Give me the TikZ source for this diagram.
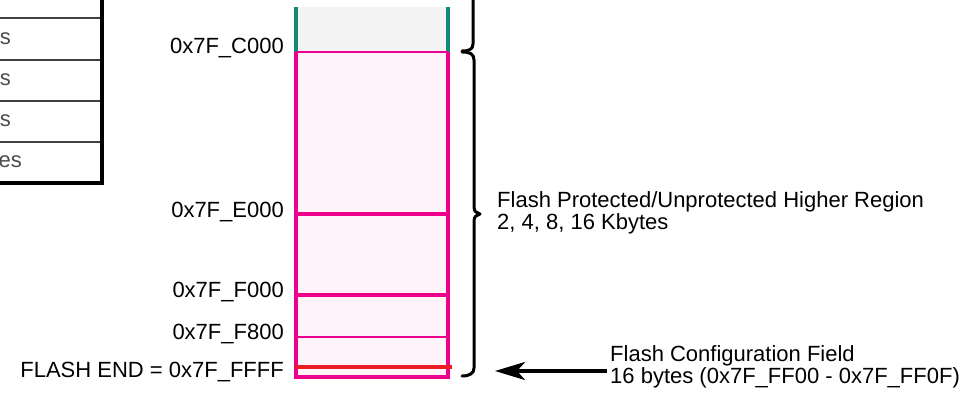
\documentclass[tikz,border=0pt]{standalone}
\usepackage{fontspec}
\setmainfont{Liberation Sans}
\usepackage{tikz}
\usetikzlibrary{arrows.meta,positioning}
\definecolor{flashpink}{RGB}{236,0,140}
\definecolor{flashfill}{RGB}{254,243,249}
\definecolor{flashteal}{RGB}{20,138,118}
\definecolor{flashgray}{RGB}{243,244,243}
\definecolor{flashred}{RGB}{237,28,36}
\tikzset{
  addr/.style={anchor=east,inner sep=0pt,font=\fontsize{22}{20.5}\selectfont},
  note/.style={anchor=west,align=left,inner sep=0pt,font=\fontsize{22}{20.5}\selectfont},
  cell/.style={draw=black!75,line width=2.8pt,fill=white},
  brace/.style={draw=black,line width=3pt,line cap=round,line join=round},
}

\begin{document}
\begin{tikzpicture}[x=1pt,y=-1pt]
\useasboundingbox (0,0) rectangle (960,393);
% table on the left
\foreach \top/\bot in {-30/18,18/60,60/101,101/142,142/183}
  \draw[cell] (-40,\top) rectangle (102,\bot);
\draw[black,line width=3.5pt] (102,-30) -- (102,183) -- (-40,183);
\node[addr,text=black!70] (cellA) at (11,39) {s};
\node[addr,text=black!70] (cellB) at (11,80) {s};
\node[addr,text=black!70] (cellC) at (11,121) {s};
\node[addr,text=black!70] (cellD) at (22,162) {es};
% flash block
\coordinate (blkTL) at (296,7);
\coordinate (blkTR) at (448,7);
\coordinate (blkCL) at (296,52);
\coordinate (blkCR) at (448,52);
\coordinate (blkBL) at (296,377);
\coordinate (blkBR) at (448,377);
\fill[flashgray] (blkTL) rectangle (blkCR);
\fill[flashfill] (blkCL) rectangle (blkBR);
\draw[flashteal,line width=4pt] (blkTL) -- (blkCL);
\draw[flashteal,line width=4pt] (blkTR) -- (blkCR);
\draw[flashpink,line width=4pt] (blkCL) -- (blkBL) -- (blkBR) -- (blkCR);
\draw[flashpink,line width=2pt] (blkCL) -- (blkCR);
\draw[flashpink,line width=3.5pt] (296,214) -- (448,214);
\draw[flashpink,line width=3.5pt] (296,295) -- (448,295);
\draw[flashpink,line width=2pt] (296,337) -- (448,337);
\draw[flashred,line width=3.5pt] (295,367) -- (452,367);
% addresses
\node[addr] (adrC) at (284,48) {0x7F\_C000};
\node[addr] (adrE) at (284,212) {0x7F\_E000};
\node[addr] (adrF) at (284,292) {0x7F\_F000};
\node[addr] (adrF8) at (284,334) {0x7F\_F800};
\node[addr] (adrEnd) at (284,372) {FLASH END = 0x7F\_FFFF};
% braces
\draw[brace] (473,-5) -- (473,44) .. controls (473,50) and (468,51) .. (462,51);
\draw[brace] (462,52) .. controls (470,52) and (474,54) .. (474,60) -- (474,207)
  .. controls (474,212) and (477,213) .. (480,214)
  .. controls (477,215) and (474,216) .. (474,221) -- (474,368)
  .. controls (474,373) and (470,376) .. (462,376);
% notes
\node[note] (hiNote) at (497,213) {Flash Protected/Unprotected Higher Region\\2, 4, 8, 16 Kbytes};
\node[note] (cfgNote) at (610,367) {Flash Configuration Field\\16 bytes (0x7F\_FF00 - 0x7F\_FF0F)};
\coordinate (cfgTip) at (495,371);
\draw[line width=3.5pt,-{Stealth[length=30pt,width=18pt,inset=8pt]}] (cfgNote.west |- cfgTip) ++(-3,0) -- (cfgTip);
\end{tikzpicture}
\end{document}
